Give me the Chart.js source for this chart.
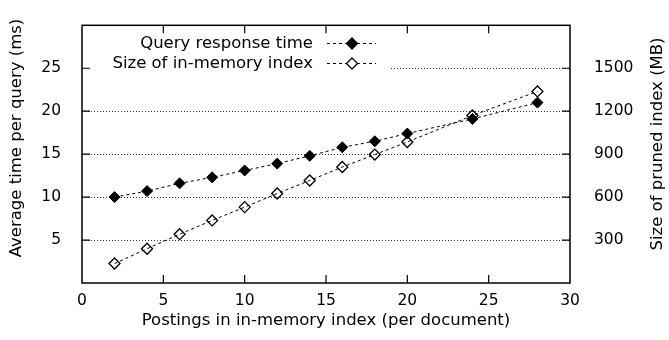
<!DOCTYPE html>
<html>
<head>
<meta charset="utf-8">
<script src="https://cdn.jsdelivr.net/npm/chart.js@4"></script>
<style>
html, body { margin: 0; padding: 0; background: #fff; }
</style>
</head>
<body>
<canvas id="chart" width="669" height="340"></canvas>
<script>
// data
const postings = [2, 4, 6, 8, 10, 12, 14, 16, 18, 20, 24, 28];
const queryTime = [10.0, 10.7, 11.6, 12.3, 13.1, 13.9, 14.8, 15.8, 16.5, 17.4, 19.1, 21.0];
const indexSizeMB = [136, 239, 341, 437, 530, 625, 716, 810, 897, 985, 1170, 1338];
const seriesNames = ["Query response time", "Size of in-memory index"];
const axisTitles = ["Average time per query (ms)", "Size of pruned index (MB)"];
const xTicks = [0, 5, 10, 15, 20, 25, 30];
const leftTicks = [5, 10, 15, 20, 25];
const rightTicks = [300, 600, 900, 1200, 1500];

const FONT = "'DejaVu Sans', sans-serif";
const tickFont = { family: FONT, size: 15.5 };
const titleFont = { family: FONT, size: 16.5 };

function diamond(ctx, x, y, r, filled) {
    ctx.beginPath();
    ctx.moveTo(x, y - r);
    ctx.lineTo(x + r, y);
    ctx.lineTo(x, y + r);
    ctx.lineTo(x - r, y);
    ctx.closePath();
    if (filled) ctx.fill();
    ctx.stroke();
}

function vText(ctx, text, x, y) {
    ctx.save();
    ctx.translate(x, y);
    ctx.rotate(-Math.PI / 2);
    ctx.fillText(text, 0, 0);
    ctx.restore();
}

// grid, frame, inward ticks, y titles and the gnuplot-style key
const frame = {
    id: "frame",
    beforeDatasetsDraw(chart) {
        const { ctx, chartArea: a, scales } = chart;
        ctx.save();
        ctx.strokeStyle = "#333";
        ctx.lineWidth = 1;
        ctx.setLineDash([1, 2]);
        leftTicks.forEach(v => {
            const y = Math.round(scales.y.getPixelForValue(v)) + 0.5;
            ctx.beginPath();
            ctx.moveTo(a.left, y);
            ctx.lineTo(a.right, y);
            ctx.stroke();
        });
        // key background hides part of the grid
        ctx.fillStyle = "#fff";
        ctx.fillRect(a.left + 2, 33, 390 - a.left - 2, 40);
        ctx.restore();
    },
    afterDatasetsDraw(chart) {
        const { ctx, chartArea: a, scales } = chart;
        ctx.save();
        ctx.strokeStyle = "#000";
        ctx.lineWidth = 1.2;
        ctx.setLineDash([]);
        const tl = 8;
        ctx.beginPath();
        leftTicks.forEach(v => {
            const y = scales.y.getPixelForValue(v);
            ctx.moveTo(a.left, y); ctx.lineTo(a.left + tl, y);
        });
        rightTicks.forEach(v => {
            const y = scales.y2.getPixelForValue(v);
            ctx.moveTo(a.right, y); ctx.lineTo(a.right - tl, y);
        });
        xTicks.slice(1, -1).forEach(v => {
            const x = scales.x.getPixelForValue(v);
            ctx.moveTo(x, a.bottom); ctx.lineTo(x, a.bottom - tl);
            ctx.moveTo(x, a.top); ctx.lineTo(x, a.top + tl);
        });
        ctx.stroke();
        ctx.lineWidth = 1.5;
        ctx.strokeRect(a.left, a.top, a.right - a.left, a.bottom - a.top);

        ctx.font = "16.5px " + FONT;
        ctx.fillStyle = "#000";
        ctx.textBaseline = "middle";

        // y axis titles, both read bottom to top
        ctx.textAlign = "center";
        vText(ctx, axisTitles[0], 17, 138);
        vText(ctx, axisTitles[1], 658, 144);

        // key
        ctx.textAlign = "right";
        const rows = [43.5, 63.5];
        seriesNames.forEach((name, i) => {
            const y = rows[i];
            ctx.fillText(name, 313, y);
            ctx.lineWidth = 1;
            ctx.setLineDash([3, 3]);
            ctx.beginPath();
            ctx.moveTo(327, y); ctx.lineTo(376, y);
            ctx.stroke();
            ctx.setLineDash([]);
            ctx.lineWidth = 1.3;
            ctx.fillStyle = i === 0 ? "#000" : "#fff";
            diamond(ctx, 352, y, 5.5, true);
            ctx.fillStyle = "#000";
        });
        ctx.restore();
    }
};

const queryPts = postings.map((p, i) => ({ x: p, y: queryTime[i] }));
const sizePts = postings.map((p, i) => ({ x: p, y: indexSizeMB[i] }));

new Chart(document.getElementById("chart").getContext("2d"), {
    type: "line",
    data: {
        datasets: [
            {
                label: seriesNames[0],
                data: queryPts,
                yAxisID: "y",
                borderColor: "#000",
                borderWidth: 1,
                borderDash: [3, 3],
                pointStyle: "rectRot",
                pointRadius: 5.5,
                pointBackgroundColor: "#000",
                pointBorderColor: "#000",
                pointBorderWidth: 1,
                tension: 0
            },
            {
                label: seriesNames[1],
                data: sizePts,
                yAxisID: "y2",
                borderColor: "#000",
                borderWidth: 1,
                borderDash: [3, 3],
                pointStyle: "rectRot",
                pointRadius: 5.5,
                pointBackgroundColor: "rgba(255,255,255,0)",
                pointBorderColor: "#000",
                pointBorderWidth: 1.3,
                tension: 0
            }
        ]
    },
    options: {
        responsive: false,
        animation: false,
        devicePixelRatio: 1,
        layout: { padding: { top: 8, left: 0, right: 0, bottom: 0 } },
        plugins: { legend: { display: false }, tooltip: { enabled: false } },
        scales: {
            x: {
                type: "linear",
                min: 0, max: 30,
                grid: { display: false },
                border: { display: false },
                ticks: { stepSize: 5, color: "#000", font: tickFont, padding: 1, maxRotation: 0 },
                title: {
                    display: true, text: "Postings in in-memory index (per document)",
                    color: "#000", font: titleFont, padding: { top: 0, bottom: 9 }
                },
                afterFit(s) { s.height = 57; }
            },
            y: {
                position: "left",
                min: 0, max: 30,
                grid: { display: false },
                border: { display: false },
                ticks: {
                    stepSize: 5, color: "#000", font: tickFont, padding: 13,
                    callback: v => (v === 0 || v === 30) ? "" : v
                },
                afterFit(s) { s.width = 82; }
            },
            y2: {
                position: "right",
                min: 0, max: 1800,
                grid: { display: false },
                border: { display: false },
                ticks: {
                    stepSize: 300, color: "#000", font: tickFont, padding: 16,
                    callback: v => (v === 0 || v === 1800) ? "" : v
                },
                afterFit(s) { s.width = 99; }
            }
        }
    },
    plugins: [frame]
});
</script>
</body>
</html>
